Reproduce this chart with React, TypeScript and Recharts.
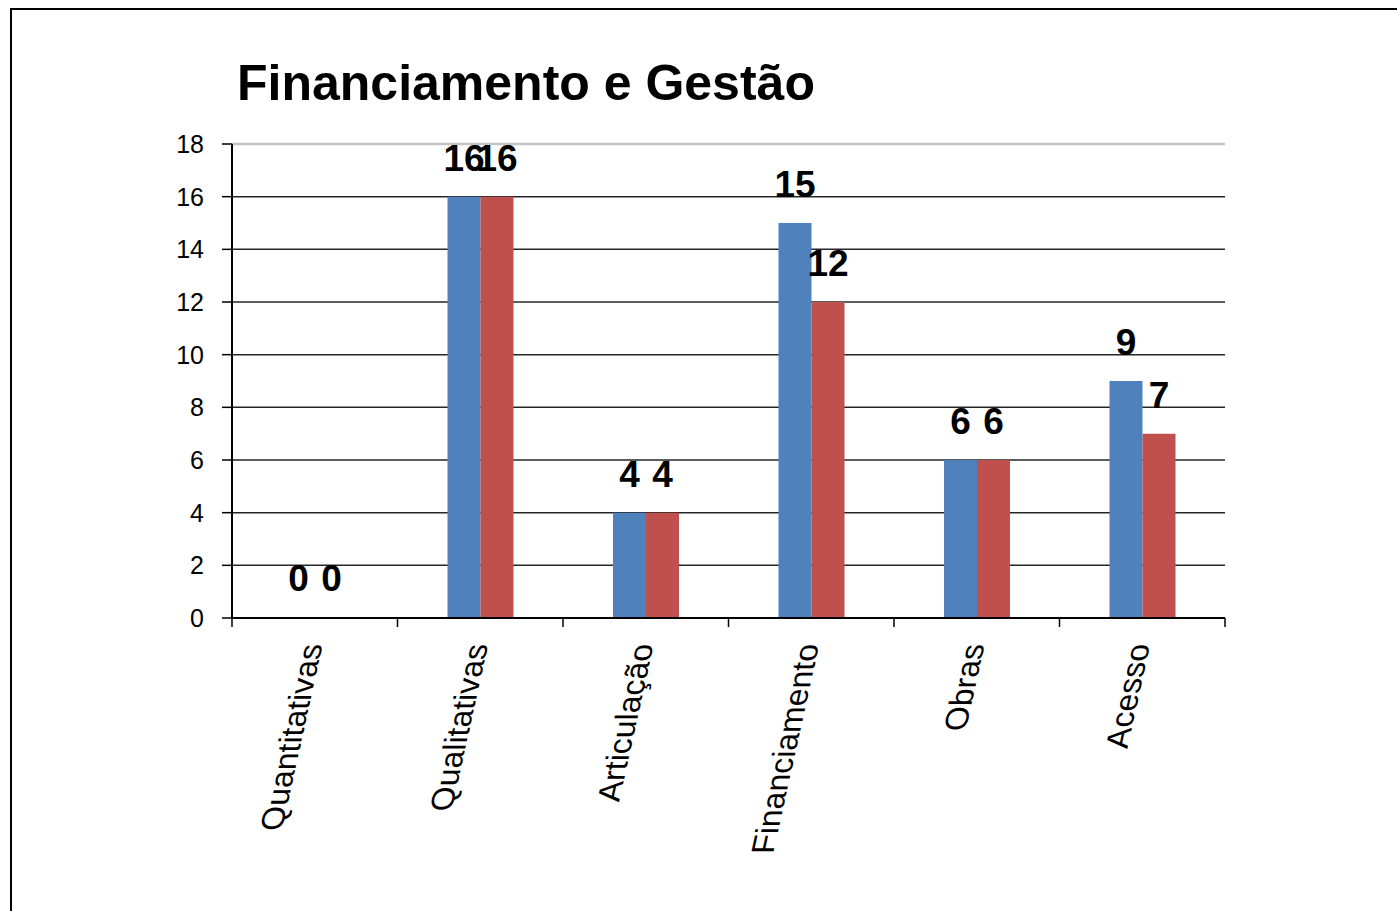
import React from 'react';
import {
  BarChart,
  Bar,
  XAxis,
  YAxis,
  CartesianGrid,
  LabelList,
  ReferenceLine,
} from 'recharts';

const categories = ['Quantitativas', 'Qualitativas', 'Articulação', 'Financiamento', 'Obras', 'Acesso'];
const serie1 = [0, 16, 4, 15, 6, 9];
const serie2 = [0, 16, 4, 12, 6, 7];
const yTicks = [0, 2, 4, 6, 8, 10, 12, 14, 16, 18];
const gridValues = [2, 4, 6, 8, 10, 12, 14, 16];

const data = categories.map((name, i) => ({ name, s1: serie1[i], s2: serie2[i] }));

const FONT = '"Liberation Sans", Arial, Helvetica, sans-serif';

// excel draws the rotated labels as vertical text with a skew, so fake it with a matrix
function SkewTick(props: any) {
  const { x, y, payload, index, visibleTicksCount } = props;
  const half = payload?.offset ?? 0;
  const last = index === visibleTicksCount - 1;
  return (
    <g>
      <line x1={x - half} x2={x - half} y1={y} y2={y + 9} stroke="#000" strokeWidth={1.5} />
      {last && <line x1={x + half} x2={x + half} y1={y} y2={y + 9} stroke="#000" strokeWidth={1.5} />}
      <text
        transform={`translate(${x + 8}, ${y + 26}) matrix(0.22, -1, 1, 0, 0, 0)`}
        textAnchor="end"
        fontFamily={FONT}
        fontSize={32}
        fill="#000"
      >
        {payload.value}
      </text>
    </g>
  );
}

// value labels, drawn even for zero-height bars
function ValueLabel(props: any) {
  const { x, y, width, value } = props;
  return (
    <text
      x={x + width / 2}
      y={y - 26}
      textAnchor="middle"
      fontFamily={FONT}
      fontSize={37}
      fontWeight="bold"
      fill="#000"
    >
      {value}
    </text>
  );
}

export default function App() {
  return (
    <div style={{ position: 'absolute', left: 0, top: 0, width: 1397, height: 911, overflow: 'hidden', background: '#fff' }}>
      <div
        style={{
          position: 'absolute',
          left: 10,
          top: 8,
          width: 1420,
          height: 940,
          border: '2px solid #000',
          boxSizing: 'border-box',
        }}
      />
      <svg width={1397} height={911} style={{ position: 'absolute', left: 0, top: 0 }}>
        <text x={237} y={100} fontFamily={FONT} fontSize={50} fontWeight="bold" fill="#000">
          Financiamento e Gestão
        </text>
      </svg>
      <div style={{ position: 'absolute', left: 0, top: 0 }}>
        <BarChart
          width={1397}
          height={911}
          data={data}
          margin={{ top: 144, right: 172, bottom: 0, left: 162 }}
          barGap={0}
          barSize={33}
        >
          <CartesianGrid
            vertical={false}
            horizontalValues={gridValues}
            stroke="#262626"
            strokeWidth={1.5}
            strokeDasharray=""
          />
          <ReferenceLine y={18} stroke="#c4c4c4" strokeWidth={2.5} />
          <XAxis
            dataKey="name"
            height={293}
            interval={0}
            tickLine={false}
            tickSize={0}
            tickMargin={0}
            axisLine={{ stroke: '#000', strokeWidth: 2 }}
            tick={<SkewTick />}
          />
          <YAxis
            width={70}
            domain={[0, 18]}
            ticks={yTicks}
            interval={0}
            tickSize={10}
            tickMargin={18}
            axisLine={{ stroke: '#000', strokeWidth: 2 }}
            tickLine={{ stroke: '#000', strokeWidth: 1.5 }}
            tick={{ fill: '#000', fontSize: 25, fontFamily: FONT }}
          />
          <YAxis
            yAxisId="frame"
            orientation="right"
            width={0}
            domain={[0, 18]}
            tick={false}
            tickLine={false}
            axisLine={{ stroke: '#c4c4c4', strokeWidth: 2.5 }}
          />
          <Bar dataKey="s1" name="Série 1" fill="#4F81BD" minPointSize={1} isAnimationActive={false}>
            <LabelList dataKey="s1" content={<ValueLabel />} />
          </Bar>
          <Bar dataKey="s2" name="Série 2" fill="#C0504D" minPointSize={1} isAnimationActive={false}>
            <LabelList dataKey="s2" content={<ValueLabel />} />
          </Bar>
        </BarChart>
      </div>
    </div>
  );
}
